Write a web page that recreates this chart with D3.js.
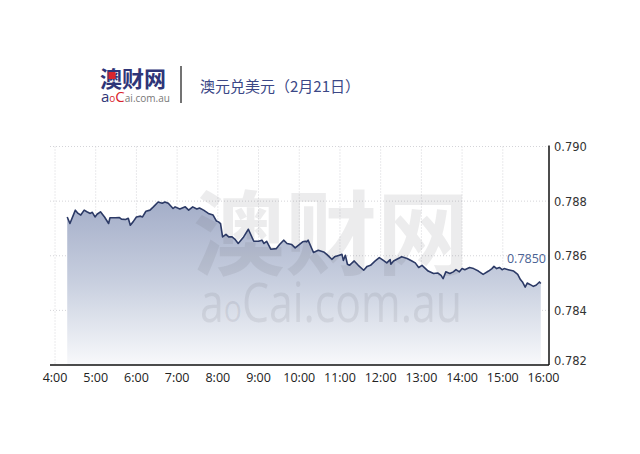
<!DOCTYPE html>
<html><head><meta charset="utf-8">
<script src="https://cdn.jsdelivr.net/npm/d3@7/dist/d3.min.js"></script>
<style>html,body{margin:0;padding:0;background:#fff;}svg{display:block;}</style>
</head><body>
<script>
// minutes after 04:00
const minutes = [18,22,30,34,38,43,47,52,55,59,62,67,73,79,81,89,95,98,104,108,111,115,120,126,129,134,140,145,152,
158,162,167,174,177,184,192,197,203,209,213,219,226,233,238,241,244,247,252,256,261,265,270,278,285,
293,300,305,308,312,318,326,331,337,342,349,354,360,365,369,371,373,381,388,396,401,408,412,419,
423,425,428,431,434,441,447,455,460,465,472,478,484,489,494,495,499,506,511,519,526,531,536,541,
550,558,564,569,572,576,582,587,591,596,600,604,611,617,624,631,639,644,647,651,655,659,662,668,676,682,686,689,693,696,700,705,709,714,716];
const rates = [0.78742,0.78718,0.78767,0.78755,0.78749,0.78767,0.78761,0.78755,0.78759,0.78742,0.78752,0.78761,0.78742,0.78718,0.78739,0.78739,0.78740,0.78734,0.78733,0.78737,0.78712,0.78724,0.78742,0.78745,0.78742,0.78763,0.78767,0.78779,0.78797,
0.78792,0.78797,0.78792,0.78773,0.78779,0.78771,0.78779,0.78767,0.78779,0.78771,0.78775,0.78767,0.78755,0.78749,0.78727,0.78724,0.78718,0.78669,0.78678,0.78669,0.78669,0.78661,0.78645,0.78669,0.78697,
0.78653,0.78653,0.78657,0.78645,0.78653,0.78624,0.78626,0.78641,0.78657,0.78645,0.78641,0.78629,0.78641,0.78651,0.78653,0.78651,0.78657,0.78612,0.78620,0.78614,0.78604,0.78587,0.78596,0.78602,
0.78605,0.78583,0.78602,0.78569,0.78565,0.78581,0.78565,0.78547,0.78561,0.78565,0.78581,0.78593,0.78583,0.78574,0.78586,0.78569,0.78581,0.78590,0.78596,0.78590,0.78581,0.78574,0.78557,0.78565,
0.78544,0.78535,0.78537,0.78528,0.78516,0.78541,0.78535,0.78541,0.78549,0.78541,0.78553,0.78549,0.78557,0.78553,0.78544,0.78532,0.78544,0.78553,0.78561,0.78553,0.78557,0.78549,0.78553,0.78549,0.78544,0.78532,0.78513,0.78504,0.78485,0.78500,0.78495,0.78488,0.78492,0.78504,0.78498];
const xTickLabels = ["4:00","5:00","6:00","7:00","8:00","9:00","10:00","11:00","12:00","13:00","14:00","15:00","16:00"];
const yTicks = [0.782,0.784,0.786,0.788,0.790];
const lastLabel = "0.7850";
const titleText = "澳元兑美元（2月21日）";

(function(){
const W=640,H=454;
const svg=d3.select("body").append("svg").attr("width",W).attr("height",H);
const pL=50,pR=549,pT=146.5,pB=365;
const x=d3.scaleLinear().domain([0,720]).range([55,543.5]);
const y=d3.scaleLinear().domain([0.782,0.790]).range([pB,pT]);
const data=minutes.map((m,i)=>({m,v:rates[i]}));

const defs=svg.append("defs");
const g=defs.append("linearGradient").attr("id","fillg")
  .attr("gradientUnits","userSpaceOnUse").attr("x1",0).attr("y1",200).attr("x2",0).attr("y2",pB);
g.append("stop").attr("offset",0).attr("stop-color","#a3adc8");
g.append("stop").attr("offset",0.5).attr("stop-color","#c8cfdf");
g.append("stop").attr("offset",1).attr("stop-color","#f8f9fb");

// grid
const grid=svg.append("g");
grid.selectAll("line.h").data(yTicks.slice(1)).join("line")
  .attr("x1",pL).attr("x2",pR).attr("y1",d=>y(d)).attr("y2",d=>y(d))
  .attr("stroke","#d4d4d8").attr("stroke-width",1).attr("stroke-dasharray","1,2");
grid.selectAll("line.v").data(d3.range(0,720,60)).join("line")
  .attr("x1",d=>x(d)).attr("x2",d=>x(d)).attr("y1",pT).attr("y2",pB)
  .attr("stroke","#d4d4d8").attr("stroke-width",1).attr("stroke-dasharray","1,2");

// area
svg.append("path").datum(data)
  .attr("d",d3.area().x(d=>x(d.m)).y0(pB).y1(d=>y(d.v)))
  .attr("fill","url(#fillg)");

// watermark
const wm=svg.append("g").attr("fill","rgba(95,95,110,0.12)");
wm.append("text").attr("x",331).attr("y",268).attr("text-anchor","middle")
  .attr("font-family","Noto Sans CJK SC").attr("font-weight","bold").attr("font-size",92).text("澳财网");
const wt=wm.append("text").attr("x",200).attr("y",322)
  .attr("font-family","Open Sans, sans-serif").attr("font-size",54)
  .attr("textLength",262).attr("lengthAdjust","spacingAndGlyphs");
wt.append("tspan").text("a");
wt.append("tspan").attr("font-size",38).text("o");
wt.append("tspan").text("Cai.com.au");

// line
svg.append("path").datum(data)
  .attr("d",d3.line().x(d=>x(d.m)).y(d=>y(d.v)))
  .attr("fill","none").attr("stroke","#2c3a66").attr("stroke-width",1.6).attr("stroke-linejoin","round");

// axes
svg.append("line").attr("x1",pL).attr("x2",pR).attr("y1",pB).attr("y2",pB).attr("stroke","#111").attr("stroke-width",1.5);
svg.append("line").attr("x1",pR).attr("x2",pR).attr("y1",pT-1).attr("y2",pB).attr("stroke","#111").attr("stroke-width",1.5);

svg.append("g").selectAll("text").data(xTickLabels).join("text")
  .attr("x",(d,i)=>x(i*60)).attr("y",382).attr("text-anchor","middle")
  .attr("font-family","Open Sans, sans-serif").attr("font-size",12.5).attr("fill","#222").text(d=>d);

svg.append("g").selectAll("text").data(yTicks).join("text")
  .attr("x",554).attr("y",d=>Math.min(y(d),360)+4.5)
  .attr("font-family","DejaVu Sans, sans-serif").attr("font-size",11.5).attr("fill","#333").text(d=>d.toFixed(3));

// last label
svg.append("text").attr("x",546).attr("y",y(rates[rates.length-1])-21)
  .attr("text-anchor","end").attr("font-family","Open Sans, sans-serif").attr("font-size",12.5)
  .attr("fill","#4a6294").text(lastLabel);

// header logo
const hd=svg.append("g");
hd.append("text").attr("x",100).attr("y",87).attr("font-family","Noto Sans CJK SC").attr("font-weight","bold")
  .attr("font-size",22).attr("fill","#2f3578").text("澳财网");
hd.append("rect").attr("x",108.5).attr("y",72).attr("width",7).attr("height",7).attr("fill","#d9262d");
const sub=hd.append("text").attr("x",101).attr("y",102).attr("font-family","Open Sans, sans-serif");
sub.append("tspan").attr("font-size",15).attr("fill","#2f3578").text("a");
sub.append("tspan").attr("font-size",10).attr("fill","#d9262d").text("o");
sub.append("tspan").attr("font-size",15).attr("fill","#d9262d").text("C");
sub.append("tspan").attr("font-size",10).attr("fill","#777").text("ai.com.au");
hd.append("line").attr("x1",181).attr("x2",181).attr("y1",66).attr("y2",103).attr("stroke","#444").attr("stroke-width",1.5);
hd.append("text").attr("x",200).attr("y",92).attr("font-family","Noto Sans CJK SC").attr("font-size",15)
  .attr("fill","#3b4786").text(titleText);
})();
</script>
</body></html>
